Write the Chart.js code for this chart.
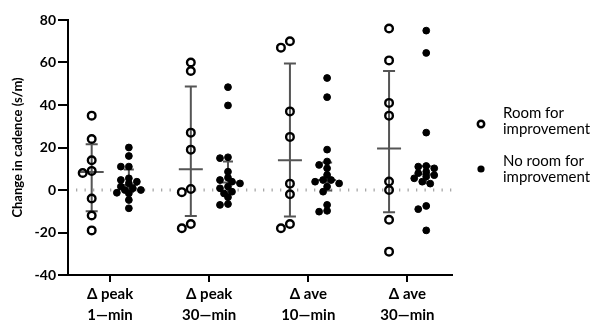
<!DOCTYPE html>
<html>
<head>
<meta charset="utf-8">
<script src="https://cdn.jsdelivr.net/npm/chart.js@4"></script>
<style>
  body { margin: 0; background: #fff; }
  canvas { display: block; }
</style>
</head>
<body>
<canvas id="cadenceChart" width="595" height="320"></canvas>
<script>
// Categories (two-line tick labels) and y ticks
const categories = [
  ["Δ peak", "1—min"],
  ["Δ peak", "30—min"],
  ["Δ ave", "10—min"],
  ["Δ ave", "30—min"],
];
const yTicks = [-40, -20, 0, 20, 40, 60, 80];

// Room for improvement (open circles), change in cadence s/m
const roomPeak1 = [35, 24, 14, 9, 8, -4, -12, -19];
const roomPeak30 = [60, 56, 27, 19, 0.5, -1, -16, -18];
const roomAve10 = [70, 67, 37, 25, 3, -2, -16, -18];
const roomAve30 = [76, 61, 41, 35, 4, 0, -14, -29];

// No room for improvement (filled circles)
const noRoomPeak1 = [20, 16, 11, 11, 5.5, 4.7, 3.9, 3.1, 1.6, 0.8, 0, 0, -1.3, -1.6, -4.7, -8.6];
const noRoomPeak30 = [48.4, 39.8, 15.4, 15, 8.6, 5.8, 4.7, 3.9, 3.1, 1.6, 0.8, -0.8, -1.6, -3.4, -6.6, -7];
const noRoomAve10 = [52.7, 43.7, 19, 13.4, 11.8, 10.2, 7.1, 4.7, 4.7, 3.9, 3.1, 1.6, -0.8, -7, -9.8, -10.2];
const noRoomAve30 = [75, 64.5, 27, 11.3, 11, 10.2, 8.6, 7.9, 7, 6.3, 5.5, 3.9, 3, -7.5, -9, -19];

const roomGroups = [roomPeak1, roomPeak30, roomAve10, roomAve30];
const noRoomGroups = [noRoomPeak1, noRoomPeak30, noRoomAve10, noRoomAve30];

const FONT = 'Lato, "Open Sans", sans-serif';
const ROOM_SHIFT = -0.185;
const NOROOM_SHIFT = 0.19;

// percentile as used for median / interquartile range
function percentile(values, p) {
  const s = values.slice().sort((a, b) => a - b);
  const n = s.length;
  const r = p * (n + 1);
  const lo = Math.floor(r);
  if (lo < 1) return s[0];
  if (lo >= n) return s[n - 1];
  return s[lo - 1] + (r - lo) * (s[lo] - s[lo - 1]);
}

function toPoints(groups, shift) {
  const pts = [];
  groups.forEach((vals, g) => {
    vals.forEach((v) => pts.push({ x: g + 1 + shift, y: v, g: g }));
  });
  return pts;
}

// spread points sideways so they don't sit right on top of each other
function swarm(points, xScale, yScale, step, minDist) {
  const byGroup = {};
  points.forEach((p) => {
    (byGroup[p.g] = byGroup[p.g] || []).push(p);
  });
  Object.values(byGroup).forEach((list) => {
    const cx = xScale.getPixelForValue(list[0].x);
    const placed = [];
    list.slice().sort((a, b) => b.y - a.y).forEach((p) => {
      const py = yScale.getPixelForValue(p.y);
      let best = cx;
      let bestGap = -1;
      for (let k = 0; k < 7; k++) {
        const off = k === 0 ? 0 : Math.ceil(k / 2) * step * (k % 2 ? -1 : 1);
        const tx = cx + off;
        const gap = placed.length ? Math.min(...placed.map((q) => Math.hypot(q[0] - tx, q[1] - py))) : 99;
        if (gap >= minDist) {
          best = tx;
          bestGap = gap;
          break;
        }
        if (gap > bestGap + 0.5) {
          best = tx;
          bestGap = gap;
        }
      }
      placed.push([best, py]);
      p.x = xScale.getValueForPixel(best);
    });
  });
}

const zeroLine = {
  id: "zeroLine",
  beforeDatasetsDraw(chart) {
    const { ctx, chartArea, scales } = chart;
    const y = scales.y.getPixelForValue(0);
    ctx.save();
    ctx.strokeStyle = "#a8a8a8";
    ctx.lineWidth = 3;
    ctx.setLineDash([1.3, 7.2]);
    ctx.beginPath();
    ctx.moveTo(chartArea.left + 8, y);
    ctx.lineTo(chartArea.right, y);
    ctx.stroke();
    ctx.restore();
  },
};

const errorBars = {
  id: "errorBars",
  beforeDatasetsDraw(chart) {
    const { ctx, scales } = chart;
    const sets = [
      { groups: roomGroups, shift: ROOM_SHIFT, med: 12, cap: 6 },
      { groups: noRoomGroups, shift: NOROOM_SHIFT, med: 9, cap: 5 },
    ];
    ctx.save();
    ctx.strokeStyle = "#555";
    ctx.lineWidth = 2;
    sets.forEach((set) => {
      set.groups.forEach((vals, g) => {
        const x = scales.x.getPixelForValue(g + 1 + set.shift);
        const q1 = scales.y.getPixelForValue(percentile(vals, 0.25));
        const q3 = scales.y.getPixelForValue(percentile(vals, 0.75));
        const md = scales.y.getPixelForValue(percentile(vals, 0.5));
        ctx.beginPath();
        ctx.moveTo(x, q1);
        ctx.lineTo(x, q3);
        ctx.moveTo(x - set.cap, q1);
        ctx.lineTo(x + set.cap, q1);
        ctx.moveTo(x - set.cap, q3);
        ctx.lineTo(x + set.cap, q3);
        ctx.moveTo(x - set.med, md);
        ctx.lineTo(x + set.med, md);
        ctx.stroke();
      });
    });
    ctx.restore();
  },
};

const sideLegend = {
  id: "sideLegend",
  afterDraw(chart) {
    const ctx = chart.ctx;
    ctx.save();
    ctx.fillStyle = "#000";
    ctx.strokeStyle = "#000";
    ctx.lineWidth = 2.5;
    ctx.beginPath();
    ctx.arc(481, 124, 3.2, 0, Math.PI * 2);
    ctx.stroke();
    ctx.beginPath();
    ctx.arc(481, 169, 3.6, 0, Math.PI * 2);
    ctx.fill();
    ctx.font = "15px " + FONT;
    ctx.textBaseline = "middle";
    ctx.fillText("Room for", 503, 113);
    ctx.fillText("improvement", 503, 129);
    ctx.fillText("No room for", 503, 161);
    ctx.fillText("improvement", 503, 177);
    ctx.restore();
  },
};

const roomPoints = toPoints(roomGroups, ROOM_SHIFT);
const noRoomPoints = toPoints(noRoomGroups, NOROOM_SHIFT);

const ctx = document.getElementById("cadenceChart").getContext("2d");
const chart = new Chart(ctx, {
  type: "scatter",
  data: {
    datasets: [
      {
        label: "Room for improvement",
        data: roomPoints,
        pointRadius: 3.8,
        pointBorderWidth: 2.4,
        pointBorderColor: "#000",
        pointBackgroundColor: "rgba(0,0,0,0)",
        clip: false,
      },
      {
        label: "No room for improvement",
        data: noRoomPoints,
        pointRadius: 3.4,
        pointBorderWidth: 1,
        pointBorderColor: "#000",
        pointBackgroundColor: "#000",
        clip: false,
      },
    ],
  },
  options: {
    responsive: false,
    animation: false,
    layout: { padding: { top: 20, right: 143, bottom: 0, left: 0 } },
    plugins: { legend: { display: false }, tooltip: { enabled: false } },
    scales: {
      x: {
        type: "linear",
        min: 0.576,
        max: 4.45,
        afterBuildTicks: (scale) => {
          scale.ticks = categories.map((c, i) => ({ value: i + 1 }));
        },
        afterFit: (scale) => {
          scale.height = 45;
        },
        grid: { drawOnChartArea: false, drawTicks: true, tickLength: 7, color: "#000", lineWidth: 2 },
        border: { color: "#000", width: 2 },
        ticks: {
          color: "#000",
          padding: 2,
          maxRotation: 0,
          font: { family: FONT, size: 15, weight: "bold", lineHeight: 1.4 },
          callback: (value) => categories[value - 1],
        },
      },
      y: {
        min: -40,
        max: 80,
        afterBuildTicks: (scale) => {
          scale.ticks = yTicks.map((v) => ({ value: v }));
        },
        afterFit: (scale) => {
          scale.width = 68;
        },
        grid: { drawOnChartArea: false, drawTicks: true, tickLength: 10, color: "#000", lineWidth: 2 },
        border: { color: "#000", width: 2 },
        ticks: {
          color: "#000",
          padding: 2,
          font: { family: FONT, size: 14, weight: "bold" },
        },
        title: {
          display: true,
          text: "Change in cadence (s/m)",
          color: "#000",
          padding: { top: 10, bottom: 0 },
          font: { family: FONT, size: 13, weight: "bold" },
        },
      },
    },
  },
  plugins: [zeroLine, errorBars, sideLegend],
});

// jitter the dots once the scales are known
swarm(roomPoints, chart.scales.x, chart.scales.y, 9, 8);
swarm(noRoomPoints, chart.scales.x, chart.scales.y, 4, 5.5);
chart.update("none");
</script>
</body>
</html>
